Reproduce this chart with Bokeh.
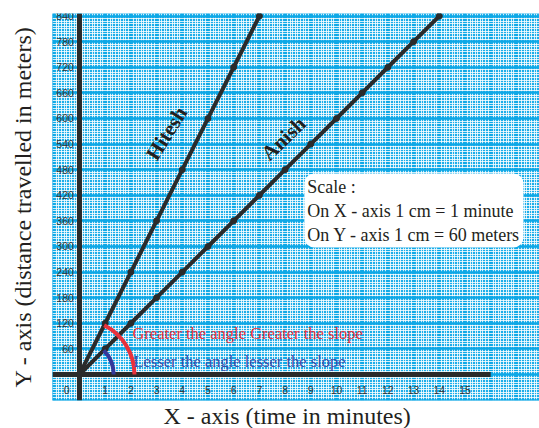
import math
from bokeh.plotting import figure
from bokeh.models import SingleIntervalTicker, FixedTicker, LinearAxis, Span, Label, Title
from bokeh.core.properties import value
from bokeh.embed import file_html
from bokeh.resources import INLINE

# ---------------- data ----------------
hitesh_time = [0, 1, 2, 3, 4, 5, 6, 7]
hitesh_dist = [0, 120, 240, 360, 480, 600, 720, 840]
anish_time = [0, 1, 2, 3, 4, 5, 6, 7, 8, 9, 10, 11, 12, 13, 14]
anish_dist = [0, 60, 120, 180, 240, 300, 360, 420, 480, 540, 600, 660, 720, 780, 840]

x_tick_values = [0, 1, 2, 3, 4, 5, 6, 7, 8, 9, 10, 11, 12, 13, 14, 15]
x_tick_labels = ["0", "1", "2", "3", "4", "5", "6", "7", "8", "9", "10", "11", "12", "13", "14", "15"]
y_tick_values = [60, 120, 180, 240, 300, 360, 420, 480, 540, 600, 660, 720, 780, 840]
y_tick_labels = ["60", "120", "180", "240", "300", "360", "420", "480", "540", "600",
                 "660", "720", "780", "840"]

series_names = ["Hitesh", "Anish"]
scale_text = "Scale :\nOn X - axis 1 cm = 1 minute\nOn Y - axis 1 cm = 60 meters"
greater_text = "Greater the angle Greater the slope"
lesser_text = "Lesser the angle lesser the slope"
x_title = "X - axis (time in minutes)"
y_title = "Y - axis (distance travelled in meters)"

# ---------------- layout ----------------
W, H = 539, 428
ML, MR, MT, MB = 52, 0, 13, 28
X0, X1 = -1.05, 17.9
Y0, Y1 = -61, 846
X_AXIS_END = 16

SERIF = "Liberation Serif"
SANS = "Liberation Sans"
DARK = "#2b2b2b"
INK = "#231f20"

p = figure(width=W, height=H, x_range=(X0, X1), y_range=(Y0, Y1),
           output_backend="svg", toolbar_location=None,
           x_axis_location=None, y_axis_location=None,
           min_border_left=ML, min_border_right=MR, min_border_top=MT,
           min_border_bottom=MB)
p.outline_line_color = None
p.background_fill_color = "#1eaee9"
p.border_fill_color = "white"

# graph paper
p.xgrid.ticker = SingleIntervalTicker(interval=1, num_minor_ticks=10)
p.ygrid.ticker = SingleIntervalTicker(interval=60, num_minor_ticks=10)
for g in (p.xgrid, p.ygrid):
    g.grid_line_color = "#0ea8e6"
    g.grid_line_width = 2.5
    g.grid_line_alpha = 1.0
    g.minor_grid_line_color = "white"
    g.minor_grid_line_alpha = 0.8
    g.minor_grid_line_width = 1

# axis titles
p.add_layout(Title(text=x_title, align="left", offset=111, text_font=SERIF,
                   text_font_size="24px", text_font_style="normal", text_color=INK,
                   standoff=0), "below")
y_axis = LinearAxis(ticker=FixedTicker(ticks=[]), axis_label=y_title,
                    axis_label_text_font=SERIF, axis_label_text_font_size="24px",
                    axis_label_text_font_style="normal", axis_label_text_color=INK,
                    axis_label_standoff=17, major_label_standoff=0,
                    major_label_text_font_size="0px", major_tick_in=0, major_tick_out=0,
                    minor_tick_in=0, minor_tick_out=0, axis_line_color=None)
p.add_layout(y_axis, "left")

# thick axes
p.add_layout(Span(location=0, dimension="height", line_color=DARK, line_width=5))
p.segment(x0=[X0], y0=[0], x1=[X_AXIS_END], y1=[0], line_color=DARK, line_width=5)

# tick labels (drawn on the paper)
p.text(x=x_tick_values[1:], y=[-36] * (len(x_tick_values) - 1), text=x_tick_labels[1:],
       text_font=value(SANS), text_font_size="10.5px", text_color="#333333",
       text_align="center", text_baseline="middle")
p.text(x=[-0.5], y=[-36], text=x_tick_labels[:1],
       text_font=value(SANS), text_font_size="10.5px", text_color="#333333",
       text_align="center", text_baseline="middle")
p.text(x=[-0.22] * len(y_tick_values), y=y_tick_values, text=y_tick_labels,
       text_font=value(SANS), text_font_size="10.5px", text_color="#333333",
       text_align="right", text_baseline="middle")

# series lines
p.line(hitesh_time, hitesh_dist, line_color=DARK, line_width=4)
p.scatter(hitesh_time, hitesh_dist, size=6, color=DARK)
p.line(anish_time, anish_dist, line_color=DARK, line_width=4)
p.scatter(anish_time, anish_dist, size=6, color=DARK)

# angle arcs (screen-space angles derived from the slopes)
fw, fh = W - ML - MR, H - MT - MB
px_x = fw / (X1 - X0)
px_y = fh / (Y1 - Y0)
ang_h = math.atan((hitesh_dist[-1] / hitesh_time[-1]) * px_y / px_x)
ang_a = math.atan((anish_dist[-1] / anish_time[-1]) * px_y / px_x)
p.arc(x=[0], y=[0], radius=2.14, start_angle=0, end_angle=ang_h,
      line_color="#e8323c", line_width=4)
p.arc(x=[0], y=[0], radius=1.33, start_angle=0, end_angle=ang_a,
      line_color="#34389a", line_width=4)

p.text(x=[2.06], y=[97], text=[greater_text], text_font=value(SERIF), text_font_size="16.5px",
       text_color="#e8303a", text_align="left", text_baseline="middle")
p.text(x=[2.1], y=[31], text=[lesser_text], text_font=value(SERIF), text_font_size="16.5px",
       text_color="#3a4aa6", text_align="left", text_baseline="middle")

# series names along the lines
p.text(x=[3.39], y=[565], text=[series_names[0]], angle=math.radians(58),
       text_font=value(SERIF), text_font_size="21px", text_font_style="bold",
       text_color=INK, text_align="center", text_baseline="middle")
p.text(x=[7.94], y=[553], text=[series_names[1]], angle=math.radians(44),
       text_font=value(SERIF), text_font_size="21px", text_font_style="bold",
       text_color=INK, text_align="center", text_baseline="middle")

# scale box
p.add_layout(Label(x=8.75, y=471, x_units="data", y_units="data", text=scale_text,
                   anchor="top_left", text_font=SERIF, text_font_size="18px",
                   text_color=INK, text_line_height=1.2,
                   background_fill_color="white", background_fill_alpha=1.0,
                   border_radius=10, padding=3))

open("out.html", "w").write(file_html(p, INLINE))
